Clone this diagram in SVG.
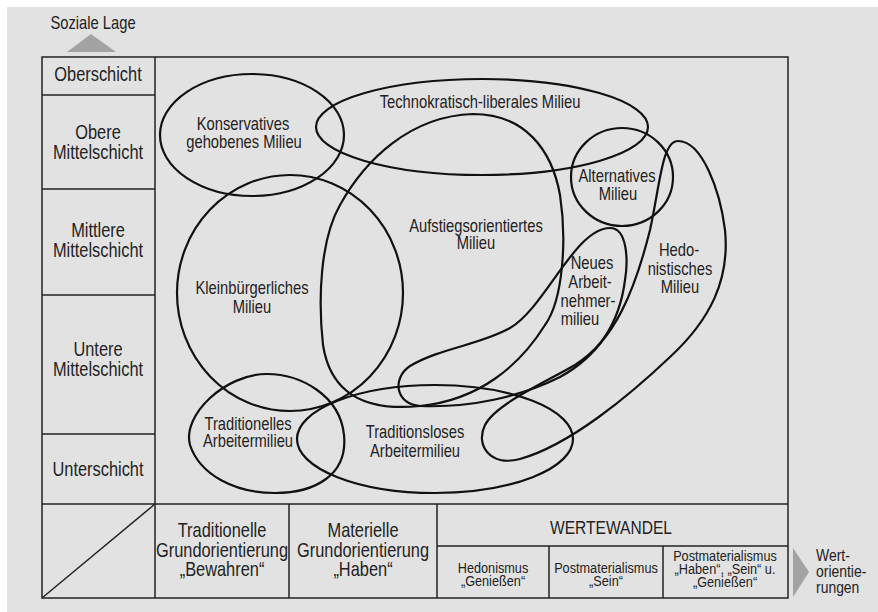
<svg xmlns="http://www.w3.org/2000/svg" width="878" height="612" viewBox="0 0 878 612">
<style>
text{font-family:"Liberation Sans",Arial,sans-serif;fill:#222;text-anchor:middle}
.row{font-size:20px}
.lbl{font-size:18px}
.hd{font-size:20px}
.sm{font-size:15.5px}
.grid{stroke:#222;stroke-width:1.5;fill:none}
.blob{stroke:#111;stroke-width:2.2;fill:none}
</style>
<rect x="7" y="7" width="871" height="605" fill="#e2e2e2"/>
<g id="frame">
<rect x="42" y="57" width="746" height="541" fill="#fff" class="grid"/>
<line x1="155" y1="57" x2="155" y2="598" class="grid"/>
<line x1="42" y1="95" x2="155" y2="95" class="grid"/>
<line x1="42" y1="189" x2="155" y2="189" class="grid"/>
<line x1="42" y1="295" x2="155" y2="295" class="grid"/>
<line x1="42" y1="434" x2="155" y2="434" class="grid"/>
<line x1="42" y1="504" x2="788" y2="504" class="grid"/>
<line x1="289" y1="504" x2="289" y2="598" class="grid"/>
<line x1="437" y1="504" x2="437" y2="598" class="grid"/>
<line x1="437" y1="546" x2="788" y2="546" class="grid"/>
<line x1="549" y1="546" x2="549" y2="598" class="grid"/>
<line x1="663" y1="546" x2="663" y2="598" class="grid"/>
<line x1="42" y1="598" x2="155" y2="504" class="grid"/>
</g>
<g id="axis-y">
<polygon points="67,52 116,52 91,34" fill="#a3a3a3"/>
<text transform="translate(93,29) scale(0.82,1)" style="font-size:18px">Soziale Lage</text>
</g>
<g id="axis-x">
<polygon points="793,548 809,572 793,597" fill="#a3a3a3"/>
<text transform="translate(816,561) scale(0.82,1)" style="font-size:17px;text-anchor:start">Wert-</text>
<text transform="translate(816,577) scale(0.82,1)" style="font-size:17px;text-anchor:start">orientie-</text>
<text transform="translate(816,593) scale(0.82,1)" style="font-size:17px;text-anchor:start">rungen</text>
</g>
<g id="rows">
<text class="row" transform="translate(98,81) scale(0.82,1)">Oberschicht</text>
<text class="row" transform="translate(98,139) scale(0.82,1)">Obere</text>
<text class="row" transform="translate(98,159) scale(0.82,1)">Mittelschicht</text>
<text class="row" transform="translate(98,237) scale(0.82,1)">Mittlere</text>
<text class="row" transform="translate(98,257) scale(0.82,1)">Mittelschicht</text>
<text class="row" transform="translate(98,356) scale(0.82,1)">Untere</text>
<text class="row" transform="translate(98,376) scale(0.82,1)">Mittelschicht</text>
<text class="row" transform="translate(98,476) scale(0.82,1)">Unterschicht</text>
</g>
<g id="columns">
<text class="hd" transform="translate(222,537) scale(0.82,1)">Traditionelle</text>
<text class="hd" transform="translate(222,557) scale(0.82,1)">Grundorientierung</text>
<text class="hd" transform="translate(222,576) scale(0.82,1)">„Bewahren“</text>
<text class="hd" transform="translate(363,537) scale(0.82,1)">Materielle</text>
<text class="hd" transform="translate(363,557) scale(0.82,1)">Grundorientierung</text>
<text class="hd" transform="translate(363,576) scale(0.82,1)">„Haben“</text>
<text transform="translate(611,534) scale(0.82,1)" style="font-size:19px">WERTEWANDEL</text>
<text class="sm" transform="translate(493,573) scale(0.82,1)">Hedonismus</text>
<text class="sm" transform="translate(493,586) scale(0.82,1)">„Genießen“</text>
<text class="sm" transform="translate(606,573) scale(0.82,1)">Postmaterialismus</text>
<text class="sm" transform="translate(606,586) scale(0.82,1)">„Sein“</text>
<text class="sm" transform="translate(725,561) scale(0.82,1)">Postmaterialismus</text>
<text class="sm" transform="translate(725,574) scale(0.82,1)">„Haben“, „Sein“ u.</text>
<text class="sm" transform="translate(725,587) scale(0.82,1)">„Genießen“</text>
</g>
<g id="connectors"></g>
<g id="konservativ">
<ellipse class="blob" cx="252" cy="135" rx="92" ry="61"/>
<text class="lbl" transform="translate(243,130) scale(0.82,1)">Konservatives</text>
<text class="lbl" transform="translate(244,148) scale(0.82,1)">gehobenes Milieu</text>
</g>
<g id="technokratisch">
<ellipse class="blob" cx="482" cy="127" rx="166" ry="48"/>
<text class="lbl" transform="translate(480,108) scale(0.82,1)">Technokratisch-liberales Milieu</text>
</g>
<g id="alternativ">
<ellipse class="blob" cx="622" cy="177" rx="51" ry="49"/>
<text class="lbl" transform="translate(617,182) scale(0.82,1)">Alternatives</text>
<text class="lbl" transform="translate(618,200) scale(0.82,1)">Milieu</text>
</g>
<g id="kleinbuergerlich">
<ellipse class="blob" cx="290" cy="293" rx="113" ry="118"/>
<text class="lbl" transform="translate(252,294) scale(0.82,1)">Kleinbürgerliches</text>
<text class="lbl" transform="translate(252,313) scale(0.82,1)">Milieu</text>
</g>
<g id="aufstieg">
<path class="blob" d="M 473,114 C 525,114 552,150 560,195 C 567,240 563,300 545,325 C 520,365 480,400 420,406 C 360,412 330,390 323,345 C 318,300 320,240 340,205 C 365,160 410,116 473,114 Z"/>
<text class="lbl" transform="translate(476,232) scale(0.82,1)">Aufstiegsorientiertes</text>
<text class="lbl" transform="translate(476,249) scale(0.82,1)">Milieu</text>
</g>
<g id="neues">
<path class="blob" d="M 610,228 C 628,228 628,262 625,280 C 620,320 600,355 560,377 C 520,397 470,408 420,406 C 395,404 392,378 410,366 C 440,348 480,345 510,328 C 545,308 575,228 610,228 Z"/>
<text class="lbl" transform="translate(592,269) scale(0.82,1)">Neues</text>
<text class="lbl" transform="translate(590,288) scale(0.82,1)">Arbeit-</text>
<text class="lbl" transform="translate(588,307) scale(0.82,1)">nehmer-</text>
<text class="lbl" transform="translate(580,325) scale(0.82,1)">milieu</text>
</g>
<g id="hedonistisch">
<path class="blob" d="M 678,141 C 702,141 720,190 725,230 C 730,280 710,320 670,357 C 630,395 570,445 520,459 C 490,467 475,445 485,425 C 495,405 540,385 575,365 C 615,340 635,290 650,230 C 660,185 662,141 678,141 Z"/>
<text class="lbl" transform="translate(679,256) scale(0.82,1)">Hedo-</text>
<text class="lbl" transform="translate(680,275) scale(0.82,1)">nistisches</text>
<text class="lbl" transform="translate(680,293) scale(0.82,1)">Milieu</text>
</g>
<g id="traditionell">
<path class="blob" d="M 267,374 C 300,374 340,395 344,435 C 348,475 315,493 275,493 C 235,493 200,475 190,445 C 182,415 225,374 267,374 Z"/>
<text class="lbl" transform="translate(248,430) scale(0.82,1)">Traditionelles</text>
<text class="lbl" transform="translate(248,447) scale(0.82,1)">Arbeitermilieu</text>
</g>
<g id="traditionslos">
<ellipse class="blob" cx="435" cy="439" rx="138" ry="54"/>
<text class="lbl" transform="translate(415,438) scale(0.82,1)">Traditionsloses</text>
<text class="lbl" transform="translate(415,457) scale(0.82,1)">Arbeitermilieu</text>
</g>
</svg>
